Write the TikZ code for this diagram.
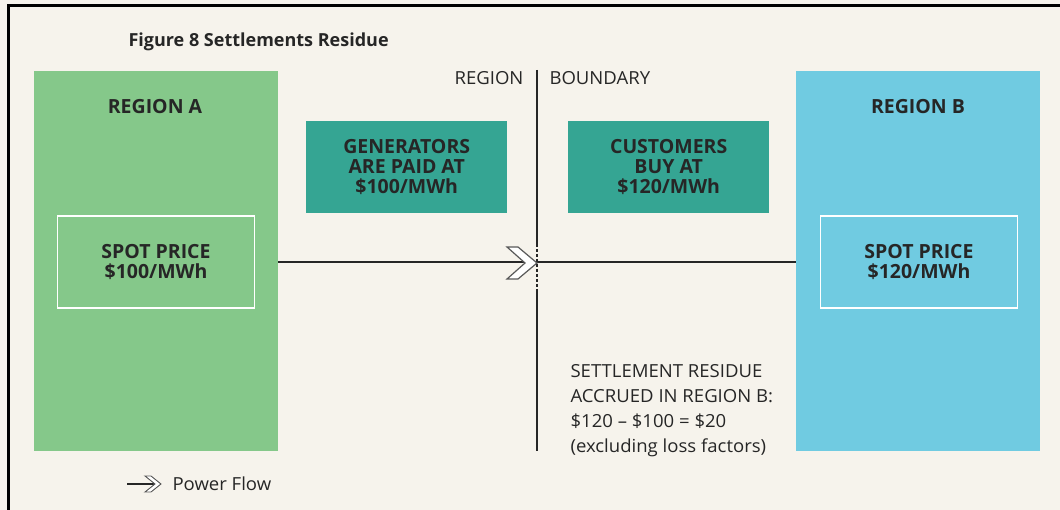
\documentclass[tikz,border=0pt]{standalone}
\usepackage{fontspec}
\setmainfont{Open Sans}
\newfontfamily\bodyfont[FakeStretch=1.03]{Open Sans}
\definecolor{bg}{HTML}{F6F3EC}
\definecolor{regA}{HTML}{85C88A}
\definecolor{regB}{HTML}{70CBE1}
\definecolor{teal}{HTML}{35A593}
\definecolor{ink}{HTML}{262626}
\begin{document}
\begin{tikzpicture}[x=1pt,y=-1pt,
  region/.style={fill=#1, draw=none, minimum width=244pt, minimum height=380pt, inner sep=0pt, anchor=north west},
  spot/.style={draw=white, line width=1.5pt, minimum width=197pt, minimum height=92pt, inner sep=0pt, align=center, font=\bfseries\fontsize{19.5}{20}\selectfont, text=ink},
  tealbox/.style={fill=teal, minimum width=201pt, minimum height=92pt, inner sep=0pt, align=center, font=\bfseries\fontsize{19.5}{20}\selectfont, text=ink, anchor=north west},
  hdr/.style={font=\bfseries\fontsize{19.5}{20}\selectfont, text=ink},
  plain/.style={font=\bodyfont\fontsize{18}{25}\selectfont, text=ink},
  conn/.style={draw=ink, line width=1.3pt},
  chev/.style={fill=white, draw=black!65, line width=1.2pt, line join=miter}
]
\useasboundingbox (0,0) rectangle (1060,510);
\fill[bg] (0,0) rectangle (1060,510);
\draw[line width=3pt] (8,510) -- (8,6) -- (1060,6);

\node[anchor=west, font=\bfseries\fontsize{18}{20}\selectfont, text=ink] (title) at (125,42) {Figure 8 Settlements Residue};

\node[region=regA] (regionA) at (34,71) {};
\node[region=regB] (regionB) at (796,71) {};
\node[hdr] (labA) at (155,107) {REGION A};
\node[hdr] (labB) at (918,107) {REGION B};
\node[spot] (spotA) at (156,262) {SPOT PRICE\\\$100/MWh};
\node[spot] (spotB) at (919,262) {SPOT PRICE\\\$120/MWh};

\node[tealbox] (gen) at (306,121) {GENERATORS\\ARE PAID AT\\\$100/MWh};
\node[tealbox] (cust) at (568,121) {CUSTOMERS\\BUY AT\\\$120/MWh};

\coordinate (btop) at (537,70);
\coordinate (bbot) at (537,451);
\coordinate (dash1) at (537,244);
\coordinate (dash2) at (537,292);
\node[anchor=east, plain, font=\bodyfont\fontsize{18}{20}\selectfont] (reglab) at (527,78) {REGION};
\node[anchor=west, plain, font=\bodyfont\fontsize{18}{20}\selectfont] (boundlab) at (546,78) {BOUNDARY};
\draw[conn] (btop) -- (dash1);
\draw[conn, dash pattern=on 3pt off 2pt] (dash1) -- (dash2);
\draw[conn] (dash2) -- (bbot);

\draw[conn] (regionA.east |- spotA.center) -- (regionB.west |- spotB.center);
\coordinate (tip) at (537,263);
\draw[chev] (tip) -- ++(-19,-16) -- ++(-11,0) -- ++(18,16) -- ++(-18,16) -- ++(11,0) -- cycle;

\node[plain, anchor=north west, align=left] (residue) at (567,361) {SETTLEMENT RESIDUE\\ACCRUED IN REGION B:\\\$120 – \$100 = \$20\\(excluding loss factors)};

\coordinate (legA) at (127,484);
\coordinate (legB) at (161,484);
\draw[conn] (legA) -- (legB);
\draw[chev, line width=0.9pt, fill=white] (legB) -- ++(-10,-8) -- ++(-6,0) -- ++(10,8) -- ++(-10,8) -- ++(6,0) -- cycle;
\node[plain, anchor=west, font=\bodyfont\fontsize{18}{20}\selectfont] (leglab) at (169,484) {Power Flow};
\end{tikzpicture}
\end{document}
